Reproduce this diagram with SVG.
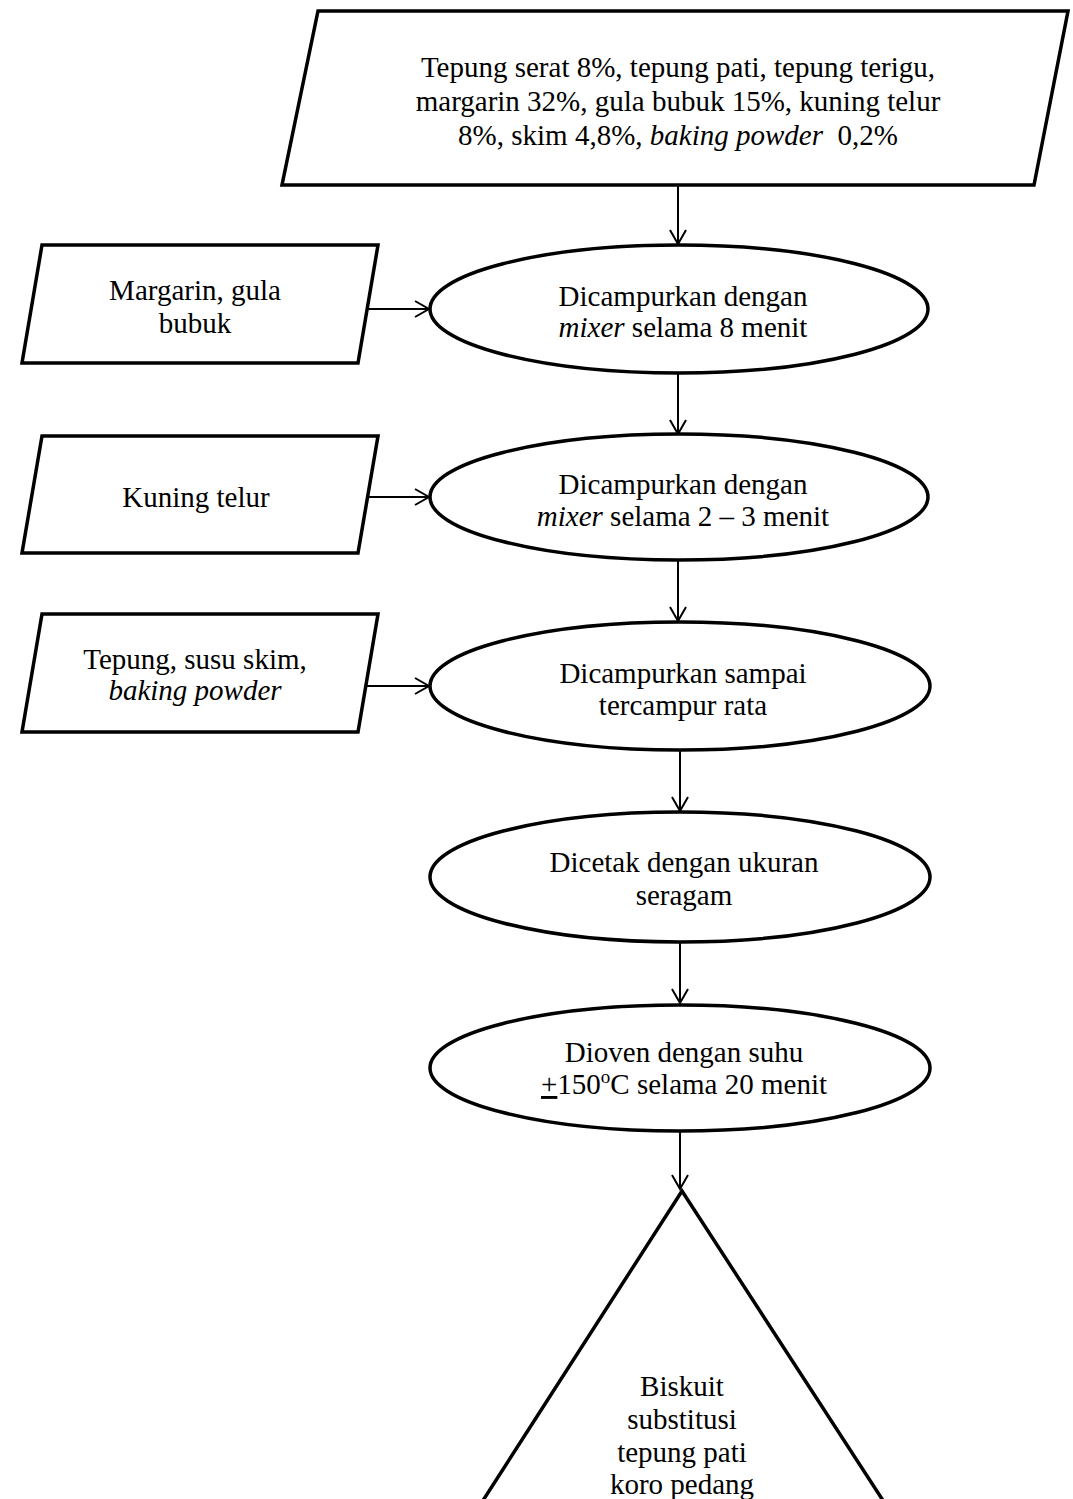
<svg xmlns="http://www.w3.org/2000/svg" width="1073" height="1499" viewBox="0 0 1073 1499">
<style>
.s{fill:#fff;stroke:#000;stroke-width:3.5;stroke-linejoin:miter}
.c{fill:none;stroke:#000;stroke-width:2}
text{font-family:"Liberation Serif","Times New Roman",serif;font-size:29px;fill:#000;text-anchor:middle}
.i{font-style:italic}
</style>
<defs>
<marker id="a" markerWidth="20" markerHeight="20" refX="18" refY="10" orient="auto" markerUnits="userSpaceOnUse">
<path d="M4,2 L18,10 L4,18" fill="none" stroke="#000" stroke-width="2"/>
</marker>
</defs>
<rect width="1073" height="1499" fill="#fff"/>
<g id="connectors">
<line class="c" x1="678" y1="186" x2="678" y2="244" marker-end="url(#a)"/>
<line class="c" x1="359" y1="309" x2="429" y2="309" marker-end="url(#a)"/>
<line class="c" x1="678" y1="374" x2="678" y2="434" marker-end="url(#a)"/>
<line class="c" x1="359" y1="497" x2="429" y2="497" marker-end="url(#a)"/>
<line class="c" x1="678" y1="561" x2="678" y2="621" marker-end="url(#a)"/>
<line class="c" x1="359" y1="686" x2="429" y2="686" marker-end="url(#a)"/>
<line class="c" x1="680" y1="751" x2="680" y2="811" marker-end="url(#a)"/>
<line class="c" x1="680" y1="943" x2="680" y2="1003" marker-end="url(#a)"/>
<line class="c" x1="680" y1="1131" x2="680" y2="1189" marker-end="url(#a)"/>
</g>
<g id="n0">
<polygon class="s" points="318,11 1068,11 1034,185 282,185"/>
<text x="678" y="77">Tepung serat 8%, tepung pati, tepung terigu,</text>
<text x="678" y="111">margarin 32%, gula bubuk 15%, kuning telur</text>
<text x="678" y="145" xml:space="preserve">8%, skim 4,8%, <tspan class="i">baking powder</tspan>  0,2%</text>
</g>
<g id="in1">
<polygon class="s" points="42,245 378,245 358,363 22,363"/>
<text x="195" y="300">Margarin, gula</text>
<text x="195" y="333">bubuk</text>
</g>
<g id="p1">
<ellipse class="s" cx="679" cy="309" rx="249" ry="64"/>
<text x="683" y="306">Dicampurkan dengan</text>
<text x="683" y="337"><tspan class="i">mixer</tspan> selama 8 menit</text>
</g>
<g id="in2">
<polygon class="s" points="42,436 378,436 358,553 22,553"/>
<text x="196" y="507">Kuning telur</text>
</g>
<g id="p2">
<ellipse class="s" cx="679" cy="497" rx="249" ry="63"/>
<text x="683" y="494">Dicampurkan dengan</text>
<text x="683" y="526"><tspan class="i">mixer</tspan> selama 2 – 3 menit</text>
</g>
<g id="in3">
<polygon class="s" points="42,614 378,614 358,732 22,732"/>
<text x="195" y="669">Tepung, susu skim,</text>
<text x="195" y="700" class="i">baking powder</text>
</g>
<g id="p3">
<ellipse class="s" cx="680" cy="686" rx="250" ry="64"/>
<text x="683" y="683">Dicampurkan sampai</text>
<text x="683" y="715">tercampur rata</text>
</g>
<g id="p4">
<ellipse class="s" cx="680" cy="877" rx="250" ry="65"/>
<text x="684" y="872">Dicetak dengan ukuran</text>
<text x="684" y="905">seragam</text>
</g>
<g id="p5">
<ellipse class="s" cx="680" cy="1068" rx="250" ry="63"/>
<text x="684" y="1062">Dioven dengan suhu</text>
<text x="684" y="1094"><tspan text-decoration="underline">+</tspan>150<tspan font-size="19" dy="-11">o</tspan><tspan dy="11">C selama 20 menit</tspan></text>
</g>
<g id="out">
<polyline class="s" points="482,1502 682,1191 884,1502"/>
<text x="682" y="1396">Biskuit</text>
<text x="682" y="1429">substitusi</text>
<text x="682" y="1462">tepung pati</text>
<text x="682" y="1494">koro pedang</text>
</g>
</svg>
